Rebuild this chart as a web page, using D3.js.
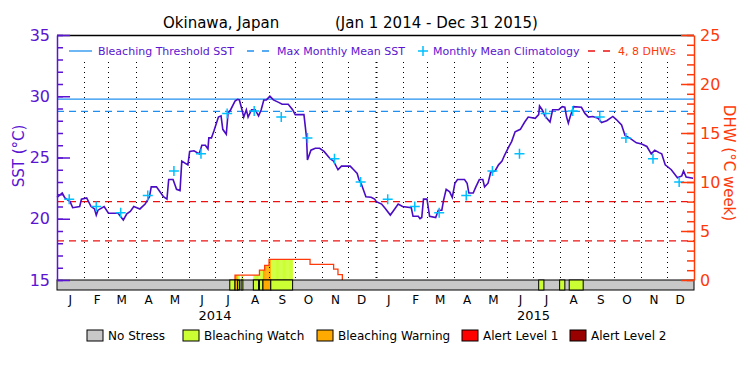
<!DOCTYPE html>
<html>
<head>
<meta charset="utf-8">
<script src="https://cdn.jsdelivr.net/npm/d3@7"></script>
<style>
body { margin: 0; background: #fff; }
text { font-family: "DejaVu Sans", sans-serif; }
</style>
</head>
<body>
<div class="chart"></div>
<script>
// daily SST trace, days counted from Jan 1 2014
const sstDay = [0, 6, 9, 15, 18, 26, 28, 34, 39, 43, 45, 47, 54, 59, 70, 76, 80, 84, 88, 95,
  101, 106, 108, 114, 118, 122, 126, 128, 133, 137, 141, 143, 150, 152, 157, 163, 166, 170, 173, 174,
  177, 180, 185, 188, 190, 194, 196, 199, 204, 207, 209, 212, 214, 217, 219, 223, 227, 231, 234, 237,
  240, 244, 248, 254, 258, 265, 270, 273, 283, 286, 287, 291, 296, 301, 306, 313, 317, 322, 326, 336,
  340, 344, 346, 349, 354, 360, 364,
  366, 372, 376, 382, 386, 391, 396, 406, 408, 414, 416, 418, 420, 424, 427, 434, 437, 441, 443, 446,
  450, 453, 456, 459, 467, 470, 472, 477, 480, 484, 488, 490, 494, 497, 502, 506, 510, 513, 518, 521,
  525, 531, 536, 540, 548, 552, 553, 556, 559, 565, 568, 575, 579, 582, 584, 586, 588, 592, 601, 605,
  609, 614, 620, 624, 630, 637, 641, 647, 651, 656, 664, 670, 676, 681, 685, 690, 693, 697, 704, 711,
  716, 718, 721, 729]
const sstVal = [21.75, 22.1, 21.7, 21.4, 20.9, 21.0, 21.6, 21.7, 21.0, 20.8, 20.3, 20.7, 21.0, 20.45, 20.45, 19.9, 20.4, 20.6, 21.0, 20.8,
  21.2, 21.8, 22.6, 22.6, 22.2, 21.8, 21.6, 23.2, 23.2, 22.4, 22.3, 24.7, 24.4, 25.5, 25.55, 25.3, 26.0, 26.0, 25.7, 26.6,
  26.6, 27.2, 28.3, 28.4, 27.3, 26.9, 28.6, 28.9, 29.6, 29.75, 29.7, 28.9, 28.3, 28.9, 28.3, 28.9, 28.9, 28.4, 28.9, 29.7,
  29.7, 30.0, 29.7, 29.5, 29.35, 29.35, 28.9, 28.5, 28.5, 26.6, 24.8, 25.6, 25.75, 25.75, 25.5, 24.9, 24.7, 24.0, 24.3, 24.3,
  24.0, 23.7, 23.2, 22.8, 21.8, 21.75, 21.6,
  21.4, 21.2, 20.85, 20.3, 20.7, 21.2, 21.0, 20.9, 20.2, 20.2, 20.0, 20.1, 21.6, 21.6, 20.2, 20.1, 20.7, 20.7, 21.5, 22.4,
  22.2, 21.75, 22.9, 23.2, 23.2, 22.9, 22.1, 22.1, 22.6, 23.2, 23.2, 22.6, 22.9, 23.8, 23.9, 24.4, 24.7, 25.2, 25.9, 26.3,
  27.1, 27.3, 27.9, 28.3, 28.2, 28.5, 29.2, 28.9, 28.4, 27.9, 28.9, 28.9, 29.15, 29.1, 28.3, 27.8, 28.3, 29.15, 29.1, 28.6,
  28.3, 28.35, 28.2, 27.85, 28.0, 28.35, 28.1, 27.65, 26.8, 26.6, 26.2, 26.1, 25.9, 25.3, 25.6, 25.4, 25.3, 24.4, 24.0, 23.35,
  23.5, 23.9, 23.4, 23.3]

// monthly mean climatology, Jan..Dec
const climVal = [21.6, 21.0, 20.5, 21.9, 23.9, 25.3, 28.6, 28.8, 28.3, 26.6, 24.9, 23.0]
const years = [2014, 2015]
const mmm = 28.77
const threshold = 29.77
const dhwLevels = [4, 8]

// degree heating weeks (step values)
const dhwDay = [204, 204, 232, 238, 243, 290, 317, 322, 327]
const dhwVal = [0, 0.5, 1.0, 1.5, 2.1, 1.6, 1.1, 0.55, 0]

// stress periods: 1 = watch, 2 = warning
const alertFrom = [198, 204, 207, 211, 225, 232, 236, 245, 552, 576, 587]
const alertTo = [204, 207, 209, 213, 231, 236, 245, 270, 558, 582, 603]
const alertLevel = [1, 2, 1, 1, 1, 1, 2, 1, 1, 1, 1]

const stressNames = ["No Stress", "Bleaching Watch", "Bleaching Warning", "Alert Level 1", "Alert Level 2"]
const stressColors = ["#c8c8c8", "#ccff33", "#ffaa00", "#ff0000", "#990000"]
const sstTicks = [15, 20, 25, 30, 35]
const dhwTicks = [0, 5, 10, 15, 20, 25]

const purple = "#5a14d2"
const orange = "#ff3a0a"

const margin = {top: 35, right: 56, bottom: 95, left: 57}
const W = 750, H = 375
const plotBottom = H - margin.bottom   // 280
const bandH = 10

const svg = d3.select(".chart").append("svg")
  .attr("width", W)
  .attr("height", H)

const day0 = Date.UTC(2014, 0, 1)
const toDate = d => new Date(day0 + d * 864e5)

const x = d3.scaleUtc()
  .domain([toDate(0), toDate(730)])
  .range([margin.left, W - margin.right])
const ySst = d3.scaleLinear().domain([15, 35]).range([plotBottom, margin.top])
const yDhw = d3.scaleLinear().domain([0, 25]).range([plotBottom, margin.top])

const dhwAt = function (d) {
  let v = 0
  dhwDay.forEach((dd, i) => { if (dd <= d) v = dhwVal[i] })
  return v
}

// DHW fill coloured by stress level
alertFrom.forEach((f, i) => {
  d3.range(f, alertTo[i]).forEach(d => {
    const v = dhwAt(d)
    if (v <= 0) return
    svg.append("rect")
      .attr("x", x(toDate(d)))
      .attr("y", yDhw(v))
      .attr("width", x(toDate(d + 1)) - x(toDate(d)) + 0.3)
      .attr("height", plotBottom - yDhw(v))
      .attr("fill", stressColors[alertLevel[i]])
  })
})

// month grid
const months = d3.utcMonth.range(new Date(Date.UTC(2014, 1, 1)), new Date(Date.UTC(2016, 0, 1)))
svg.selectAll(".grid").data(months).enter().append("line")
  .attr("x1", d => Math.round(x(d)) + 0.5)
  .attr("x2", d => Math.round(x(d)) + 0.5)
  .attr("y1", 62)
  .attr("y2", plotBottom)
  .attr("stroke", "#000")
  .attr("stroke-width", d => d.getUTCMonth() === 0 ? 2 : 1)
  .attr("stroke-dasharray", "1,4")

// reference lines
svg.append("line")
  .attr("x1", margin.left).attr("x2", W - margin.right)
  .attr("y1", ySst(threshold)).attr("y2", ySst(threshold))
  .attr("stroke", "#2090f0").attr("stroke-width", 1.3)
svg.append("line")
  .attr("x1", margin.left).attr("x2", W - margin.right)
  .attr("y1", ySst(mmm)).attr("y2", ySst(mmm))
  .attr("stroke", "#2090f0").attr("stroke-width", 1.3)
  .attr("stroke-dasharray", "7,5")
svg.selectAll(".dhwref").data(dhwLevels).enter().append("line")
  .attr("x1", margin.left).attr("x2", W - margin.right)
  .attr("y1", d => yDhw(d)).attr("y2", d => yDhw(d))
  .attr("stroke", "#ee1111").attr("stroke-width", 1.3)
  .attr("stroke-dasharray", "7,5")

// SST line
const sstData = sstDay.map((d, i) => [d, sstVal[i]])
svg.append("path")
  .datum(sstData)
  .attr("fill", "none")
  .attr("stroke", "#4a0cc4")
  .attr("stroke-width", 1.6)
  .attr("d", d3.line().x(d => x(toDate(d[0]))).y(d => ySst(d[1])))

// climatology crosses
const climData = []
years.forEach(yr => climVal.forEach((v, m) => climData.push([new Date(Date.UTC(yr, m, 15)), v])))
svg.selectAll(".clim").data(climData).enter().append("path")
  .attr("transform", d => "translate(" + x(d[0]) + "," + ySst(d[1]) + ")")
  .attr("d", "M-5,0H5M0,-5V5")
  .attr("stroke", "#00c0ff")
  .attr("stroke-width", 1.5)

// DHW line
const dhwData = dhwDay.map((d, i) => [d, dhwVal[i]])
svg.append("path")
  .datum(dhwData)
  .attr("fill", "none")
  .attr("stroke", orange)
  .attr("stroke-width", 1.3)
  .attr("d", d3.line().curve(d3.curveStepAfter).x(d => x(toDate(d[0]))).y(d => yDhw(d[1])))

// stress band
svg.append("rect")
  .attr("x", margin.left).attr("y", plotBottom)
  .attr("width", W - margin.left - margin.right).attr("height", bandH)
  .attr("fill", stressColors[0]).attr("stroke", "#000")
svg.selectAll(".alert").data(alertFrom).enter().append("rect")
  .attr("x", d => x(toDate(d)))
  .attr("y", plotBottom)
  .attr("width", (d, i) => x(toDate(alertTo[i])) - x(toDate(d)))
  .attr("height", bandH)
  .attr("fill", (d, i) => stressColors[alertLevel[i]])
  .attr("stroke", "#000")

// top frame
svg.append("line")
  .attr("x1", margin.left).attr("x2", W - margin.right)
  .attr("y1", margin.top + 0.5).attr("y2", margin.top + 0.5)
  .attr("stroke", "#000").attr("stroke-width", 1.5)

// left axis
const leftMinor = svg.append("g")
  .attr("transform", "translate(" + margin.left + ",0)")
  .attr("color", purple)
  .call(d3.axisRight(ySst).tickValues(d3.range(15, 36)).tickSize(6).tickSizeOuter(0).tickFormat(""))
leftMinor.selectAll("path, line").attr("stroke-width", 1.5)
svg.append("g")
  .attr("transform", "translate(" + margin.left + ",0)")
  .attr("color", purple)
  .call(d3.axisRight(ySst).tickValues(sstTicks).tickSize(13).tickFormat(""))
  .call(g => g.select(".domain").remove())
  .selectAll("line").attr("stroke-width", 1.5)
svg.append("g")
  .attr("transform", "translate(" + margin.left + ",0)")
  .attr("color", purple)
  .style("font-size", "16px")
  .call(d3.axisLeft(ySst).tickValues(sstTicks).tickSize(0).tickPadding(7))
  .call(g => g.select(".domain").remove())
  .selectAll("text").style("font-family", "DejaVu Sans")

// right axis
const rx = W - margin.right
const rightMinor = svg.append("g")
  .attr("transform", "translate(" + rx + ",0)")
  .attr("color", orange)
  .call(d3.axisLeft(yDhw).tickValues(d3.range(0, 26)).tickSize(7).tickSizeOuter(0).tickFormat(""))
rightMinor.selectAll("path, line").attr("stroke-width", 1.5)
svg.append("g")
  .attr("transform", "translate(" + rx + ",0)")
  .attr("color", orange)
  .call(d3.axisLeft(yDhw).tickValues(dhwTicks).tickSize(13).tickFormat(""))
  .call(g => g.select(".domain").remove())
  .selectAll("line").attr("stroke-width", 1.5)
svg.append("g")
  .attr("transform", "translate(" + rx + ",0)")
  .attr("color", orange)
  .style("font-size", "16px")
  .call(d3.axisRight(yDhw).tickValues(dhwTicks).tickSize(0).tickPadding(6))
  .call(g => g.select(".domain").remove())
  .selectAll("text").style("font-family", "DejaVu Sans")

// month letters
const midMonths = d3.utcMonth.range(new Date(Date.UTC(2014, 0, 1)), new Date(Date.UTC(2016, 0, 1)))
  .map(d => new Date(d.getTime() + 14.5 * 864e5))
svg.append("g")
  .attr("transform", "translate(0," + (plotBottom + bandH) + ")")
  .style("font-size", "12px")
  .call(d3.axisBottom(x).tickValues(midMonths).tickSize(0).tickPadding(5)
    .tickFormat(d => d3.utcFormat("%b")(d).charAt(0)))
  .call(g => g.select(".domain").remove())
  .selectAll("text").style("font-family", "DejaVu Sans").attr("fill", "#000")

svg.selectAll(".year").data(years).enter().append("text")
  .attr("x", d => x(new Date(Date.UTC(d, 6, 1))))
  .attr("y", 320)
  .attr("text-anchor", "middle")
  .style("font-size", "13px")
  .text(d => d)

// axis titles
svg.append("text")
  .attr("transform", "translate(24,156) rotate(-90)")
  .attr("text-anchor", "middle")
  .attr("fill", purple)
  .style("font-size", "15px")
  .text("SST (°C)")
svg.append("text")
  .attr("transform", "translate(724,163) rotate(90)")
  .attr("text-anchor", "middle")
  .attr("fill", orange)
  .style("font-size", "15px")
  .text("DHW (°C week)")

// title
svg.append("text").attr("x", 163).attr("y", 28).style("font-size", "15px").text("Okinawa, Japan")
svg.append("text").attr("x", 335).attr("y", 28).style("font-size", "15px").text("(Jan 1 2014 - Dec 31 2015)")

// top legend
const ly = 51
svg.append("line").attr("x1", 69).attr("x2", 92).attr("y1", ly).attr("y2", ly)
  .attr("stroke", "#2090f0").attr("stroke-width", 1.3)
svg.append("text").attr("x", 98).attr("y", ly + 4).attr("fill", purple)
  .style("font-size", "11px").text("Bleaching Threshold SST")
svg.append("line").attr("x1", 247).attr("x2", 269).attr("y1", ly).attr("y2", ly)
  .attr("stroke", "#2090f0").attr("stroke-width", 1.3).attr("stroke-dasharray", "7,8")
svg.append("text").attr("x", 277).attr("y", ly + 4).attr("fill", purple)
  .style("font-size", "11px").text("Max Monthly Mean SST")
svg.append("path").attr("transform", "translate(423," + ly + ")").attr("d", "M-5,0H5M0,-5V5")
  .attr("stroke", "#00c0ff").attr("stroke-width", 1.5)
svg.append("text").attr("x", 433).attr("y", ly + 4).attr("fill", purple)
  .style("font-size", "11px").text("Monthly Mean Climatology")
svg.append("line").attr("x1", 588).attr("x2", 610).attr("y1", ly).attr("y2", ly)
  .attr("stroke", "#ee1111").attr("stroke-width", 1.3).attr("stroke-dasharray", "7,8")
svg.append("text").attr("x", 618).attr("y", ly + 4).attr("fill", orange)
  .style("font-size", "11px").text("4, 8 DHWs")

// bottom legend
const legX = [87, 183, 317, 462, 570]
const leg = svg.selectAll(".leg").data(stressNames).enter().append("g")
  .attr("transform", (d, i) => "translate(" + legX[i] + ",330)")
leg.append("rect")
  .attr("width", 16).attr("height", 11)
  .attr("fill", (d, i) => stressColors[i])
  .attr("stroke", "#000")
leg.append("text")
  .attr("x", 21).attr("y", 10)
  .style("font-size", "12px")
  .text(d => d)
</script>
</body>
</html>
